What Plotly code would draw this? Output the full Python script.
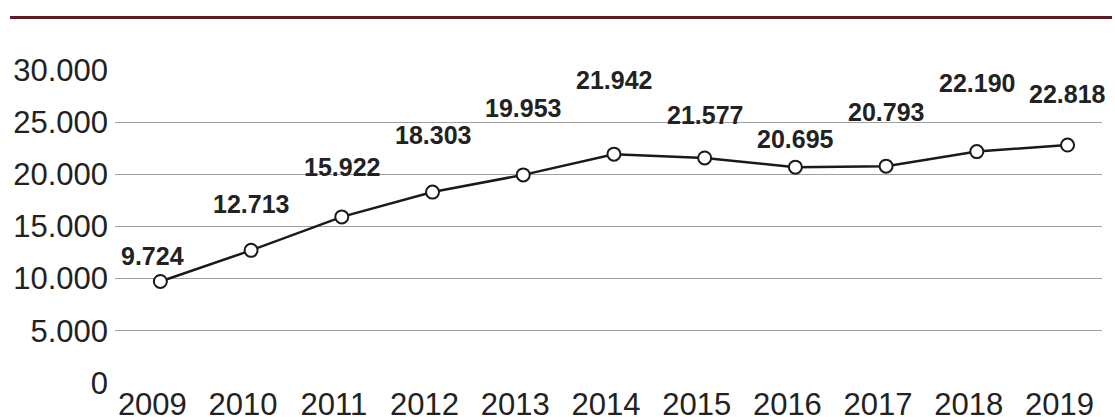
import plotly.graph_objects as go

years = [2009, 2010, 2011, 2012, 2013, 2014, 2015, 2016, 2017, 2018, 2019]
values = [9724, 12713, 15922, 18303, 19953, 21942, 21577, 20695, 20793, 22190, 22818]
value_labels = ["9.724", "12.713", "15.922", "18.303", "19.953", "21.942",
                "21.577", "20.695", "20.793", "22.190", "22.818"]
y_ticks = [0, 5000, 10000, 15000, 20000, 25000, 30000]
y_tick_labels = ["0", "5.000", "10.000", "15.000", "20.000", "25.000", "30.000"]

# vertical pixel offsets of the value labels above their points (style)
label_dy = [25, 46, 50, 57, 67, 74, 43, 28, 54, 69, 51]
label_dx = [-8, 0, 0, 0, 0, 0, 0, 0, 0, 0, 0]

FONT = "Liberation Sans, Arial, sans-serif"
TXT = "#222222"

fig = go.Figure()
fig.add_trace(go.Scatter(
    x=years, y=values, mode="lines+markers",
    line=dict(color="#1a1a1a", width=2.5),
    marker=dict(symbol="circle", size=13, color="white",
                line=dict(color="#1a1a1a", width=2)),
    hoverinfo="skip", showlegend=False,
))

for x, y, t, dy, dx in zip(years, values, value_labels, label_dy, label_dx):
    fig.add_annotation(x=x, y=y, text=f"<b>{t}</b>", showarrow=False,
                       yshift=dy, xshift=dx,
                       font=dict(family=FONT, size=25, color=TXT))

fig.add_shape(type="line", xref="paper", yref="paper",
              x0=-105/987, x1=997/987, y0=(383-17.5)/313, y1=(383-17.5)/313,
              line=dict(color="#5c1a22", width=3))

fig.update_layout(
    width=1115, height=417,
    margin=dict(l=115, r=13, t=70, b=34, autoexpand=False),
    paper_bgcolor="white", plot_bgcolor="white",
    font=dict(family=FONT, color=TXT),
    xaxis=dict(range=[2008.5, 2019.38], tickmode="array", tickvals=years,
               ticktext=[str(y) for y in years], showgrid=False,
               zeroline=False, showline=False, ticks="",
               tickfont=dict(family=FONT, size=31, color=TXT),
               ticklabelshift=-8, ticklabelstandoff=0, automargin=False),
    yaxis=dict(range=[-20, 30020], tickmode="array", tickvals=y_ticks,
               ticktext=y_tick_labels, showgrid=True, gridcolor="#a0a0a0",
               gridwidth=1, zeroline=False, showline=False, ticks="",
               tickfont=dict(family=FONT, size=31, color=TXT),
               ticklabelstandoff=6, automargin=False),
)

fig.write_html(
    "out.html",
    config={"displayModeBar": False},
    post_script="document.body.style.margin='0';document.body.style.overflow='hidden';",
)
